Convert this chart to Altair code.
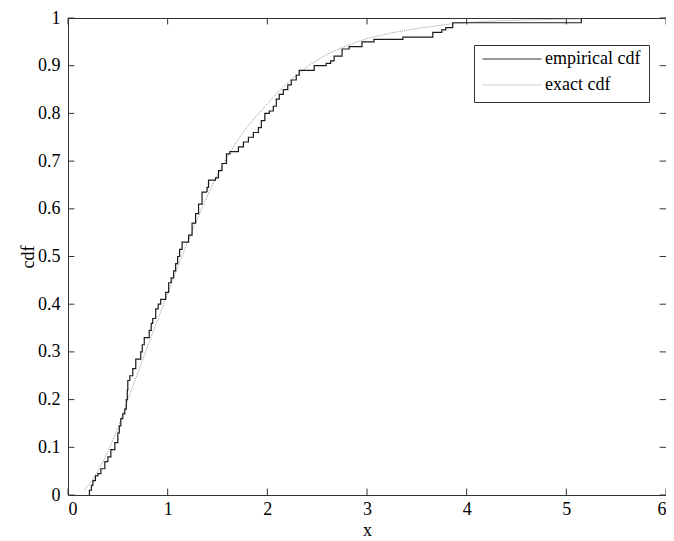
import altair as alt
import pandas as pd

# empirical cdf: jump positions and cdf value after each jump
ecdf_x = [0.21, 0.215, 0.235, 0.25, 0.275, 0.30, 0.33, 0.37, 0.40, 0.43, 0.47, 0.50,
          0.515, 0.53, 0.55, 0.57, 0.585, 0.595, 0.60, 0.62, 0.65, 0.68, 0.73, 0.745,
          0.765, 0.815, 0.835, 0.85, 0.88, 0.905, 0.93, 0.98, 1.01, 1.035, 1.06, 1.08,
          1.10, 1.12, 1.145, 1.21, 1.245, 1.28, 1.31, 1.345, 1.395, 1.41, 1.48, 1.51,
          1.545, 1.59, 1.625, 1.71, 1.76, 1.81, 1.86, 1.91, 1.94, 1.975, 2.02, 2.06,
          2.09, 2.12, 2.16, 2.205, 2.24, 2.29, 2.32, 2.47, 2.59, 2.635, 2.67, 2.75,
          2.82, 2.95, 3.07, 3.36, 3.66, 3.75, 3.79, 3.86, 5.15]
ecdf_y = [0.0, 0.01, 0.02, 0.03, 0.04, 0.045, 0.055, 0.07, 0.08, 0.095, 0.11, 0.13,
          0.145, 0.16, 0.17, 0.18, 0.2, 0.22, 0.24, 0.25, 0.265, 0.285, 0.3, 0.315,
          0.33, 0.345, 0.36, 0.37, 0.39, 0.4, 0.41, 0.425, 0.445, 0.455, 0.47, 0.485,
          0.5, 0.515, 0.53, 0.545, 0.57, 0.59, 0.61, 0.635, 0.645, 0.66, 0.665, 0.68,
          0.695, 0.715, 0.72, 0.73, 0.74, 0.75, 0.76, 0.77, 0.785, 0.8, 0.805, 0.815,
          0.83, 0.84, 0.85, 0.86, 0.87, 0.88, 0.89, 0.9, 0.905, 0.91, 0.92, 0.935,
          0.94, 0.95, 0.955, 0.96, 0.97, 0.975, 0.98, 0.99, 1.0]

# exact cdf
exact_x = [0.17, 0.25, 0.32, 0.40, 0.50, 0.63, 0.75, 0.85, 1.0, 1.08, 1.2, 1.31, 1.4,
           1.51, 1.61, 1.7, 1.79, 1.9, 1.975, 2.1, 2.2, 2.3, 2.44, 2.6, 2.77, 3.0,
           3.25, 3.5, 3.86, 4.2, 4.6, 5.15]
exact_y = [0.012, 0.033, 0.058, 0.09, 0.14, 0.217, 0.284, 0.34, 0.422, 0.467, 0.53,
           0.585, 0.628, 0.675, 0.713, 0.743, 0.77, 0.797, 0.814, 0.843, 0.864, 0.882,
           0.904, 0.924, 0.94, 0.957, 0.969, 0.978, 0.988, 0.993, 0.996, 0.998]

series_names = ["empirical cdf", "exact cdf"]
x_ticks = [0, 1, 2, 3, 4, 5, 6]
y_ticks = [0, 0.1, 0.2, 0.3, 0.4, 0.5, 0.6, 0.7, 0.8, 0.9, 1]

FONT = "Liberation Serif"
AX = "#333333"

df_e = pd.DataFrame({"x": ecdf_x, "y": ecdf_y, "series": series_names[0]})
df_x = pd.DataFrame({"x": exact_x, "y": exact_y, "series": series_names[1]})
df_xt = pd.DataFrame({"t": x_ticks})
df_yt = pd.DataFrame({"t": y_ticks})

xscale = alt.Scale(domain=[0, 6], nice=False, zero=False)
yscale = alt.Scale(domain=[0, 1], nice=False)

legend = alt.Legend(
    title=None, orient="none", legendX=406, legendY=27,
    strokeColor=AX, fillColor="white", padding=8, cornerRadius=0,
    symbolType="stroke", symbolSize=3481, symbolStrokeWidth=1,
    labelFont=FONT, labelFontSize=18, labelColor="black", labelOffset=3,
    clipHeight=12, rowPadding=8, labelLimit=300,
)

color = alt.Color("series:N", scale=alt.Scale(domain=series_names, range=["#1a1a1a", "#999999"]),
                  legend=legend)
dash = alt.StrokeDash("series:N", scale=alt.Scale(domain=series_names, range=[[1, 0], [1, 1]]),
                      legend=legend)

xaxis = alt.Axis(values=x_ticks, title="x", grid=False, domain=False, ticks=False, tickSize=0,
                 labelFont=FONT, labelFontSize=18, labelColor="black", labelPadding=5,
                 titleFont=FONT, titleFontSize=18, titleFontWeight="normal", titleColor="black",
                 titlePadding=3, format="d")
yaxis = alt.Axis(values=y_ticks, title="cdf", grid=False, domain=False, ticks=False, tickSize=0,
                 labelFont=FONT, labelFontSize=18, labelColor="black", labelPadding=8,
                 titleFont=FONT, titleFontSize=18, titleFontWeight="normal", titleColor="black",
                 titlePadding=0, format="~g")

exact = alt.Chart(df_x).mark_line(strokeWidth=1).encode(
    x=alt.X("x:Q", scale=xscale, axis=xaxis),
    y=alt.Y("y:Q", scale=yscale, axis=yaxis),
    color=color, strokeDash=dash,
)
emp = alt.Chart(df_e).mark_line(strokeWidth=1.2, interpolate="step-after").encode(
    x=alt.X("x:Q", scale=xscale),
    y=alt.Y("y:Q", scale=yscale),
    color=color, strokeDash=dash,
)

tick_style = dict(color=AX, strokeWidth=1)
xt_bottom = alt.Chart(df_xt).mark_rule(**tick_style).encode(
    x=alt.X("t:Q", scale=xscale), y=alt.datum(0), y2=alt.datum(0.0135))
xt_top = alt.Chart(df_xt).mark_rule(**tick_style).encode(
    x=alt.X("t:Q", scale=xscale), y=alt.datum(1), y2=alt.datum(0.9865))
yt_left = alt.Chart(df_yt).mark_rule(**tick_style).encode(
    y=alt.Y("t:Q", scale=yscale), x=alt.datum(0), x2=alt.datum(0.064))
yt_right = alt.Chart(df_yt).mark_rule(**tick_style).encode(
    y=alt.Y("t:Q", scale=yscale), x=alt.datum(6), x2=alt.datum(5.936))

chart = alt.layer(xt_bottom, xt_top, yt_left, yt_right, exact, emp).properties(
    width=598, height=477,
    autosize=alt.AutoSizeParams(type="none"),
    padding={"left": 60, "top": 10, "right": 0, "bottom": 44},
    background="white",
).configure_view(stroke=AX, strokeWidth=1)

chart.save("out.html", embed_options={"renderer": "svg", "actions": False})
